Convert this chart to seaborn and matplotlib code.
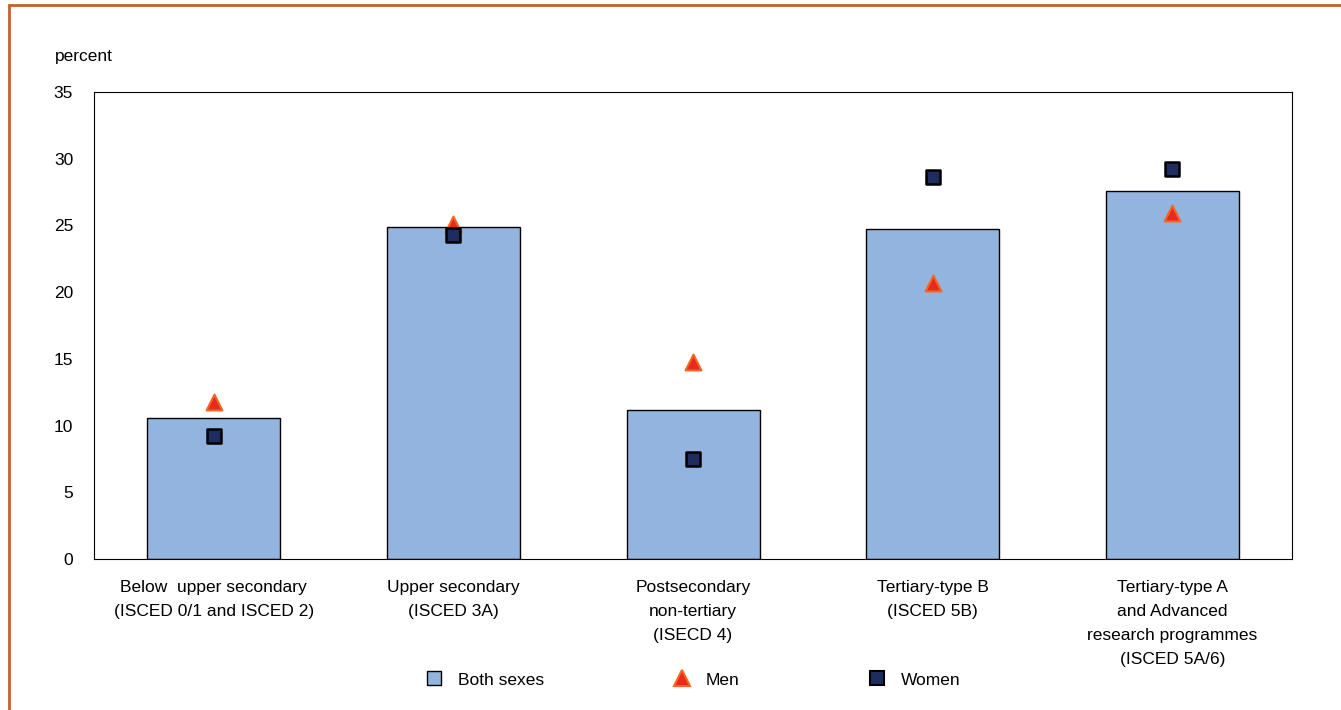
import pandas as pd
import numpy as np
import matplotlib.pyplot as plt
import seaborn as sns
from matplotlib.patches import Rectangle
from matplotlib.lines import Line2D

# data
categories = ["Below  upper secondary\n(ISCED 0/1 and ISCED 2)",
              "Upper secondary\n(ISCED 3A)",
              "Postsecondary\nnon-tertiary\n(ISECD 4)",
              "Tertiary-type B\n(ISCED 5B)",
              "Tertiary-type A\nand Advanced\nresearch programmes\n(ISCED 5A/6)"]
both_sexes = [10.6, 24.9, 11.2, 24.7, 27.6]
men = [11.8, 25.1, 14.8, 20.7, 25.9]
women = [9.2, 24.3, 7.5, 28.6, 29.2]

df = pd.DataFrame({"cat": categories, "Both sexes": both_sexes,
                   "Men": men, "Women": women})

sns.set_style("white")
plt.rcParams['font.family'] = ['Liberation Sans', 'DejaVu Sans']
plt.rcParams['text.color'] = 'black'
plt.rcParams['xtick.color'] = 'black'
plt.rcParams['ytick.color'] = 'black'

fig = plt.figure(figsize=(13.41, 7.10), dpi=100)
ax = fig.add_axes([0.0701, 0.2127, 0.8934, 0.6577])

bar_col = "#92B4DF"
sns.barplot(data=df, x="cat", y="Both sexes", color=bar_col, width=0.555,
            edgecolor="black", linewidth=1, saturation=1, ax=ax)
sns.scatterplot(data=df, x="cat", y="Men", marker="^", s=130, color="#E8291C",
                edgecolor="#F26522", linewidth=1.5, ax=ax, zorder=4)
sns.scatterplot(data=df, x="cat", y="Women", marker="s", s=110, color="#1F2D5E",
                edgecolor="black", linewidth=1.8, ax=ax, zorder=5)

ax.set_xlim(-0.5, 4.5)
ax.set_ylim(0, 35)
ax.set_yticks(range(0, 36, 5))
ax.set_xlabel("")
ax.set_ylabel("")
ax.tick_params(axis="both", length=0, labelsize=12.5)
ax.tick_params(axis="y", pad=15)
ax.tick_params(axis="x", pad=15)
for lbl in ax.get_xticklabels():
    lbl.set_linespacing(1.75)
for s in ax.spines.values():
    s.set_color("black")
    s.set_linewidth(0.8)

fig.text(55 / 1341, 1 - 57 / 710, "percent", fontsize=12.5, va="center", ha="left")

# legend at the bottom
handles = [Line2D([], [], marker="s", ls="", markersize=10, markerfacecolor=bar_col,
                  markeredgecolor="black", markeredgewidth=1),
           Line2D([], [], marker="^", ls="", markersize=11, markerfacecolor="#E8291C",
                  markeredgecolor="#F26522", markeredgewidth=1.5),
           Line2D([], [], marker="s", ls="", markersize=10, markerfacecolor="#1F2D5E",
                  markeredgecolor="black", markeredgewidth=1.5)]
fig.legend(handles, ["Both sexes", "Men", "Women"], loc="center",
           bbox_to_anchor=(0.515, 1 - 680 / 710), ncol=3, frameon=False,
           fontsize=12.5, columnspacing=7.2, handletextpad=0.6, handlelength=1.5)

# orange frame on the figure
fig.patches.append(Rectangle((9 / 1341, -0.1), 1.2, 1 - 5 / 710 + 0.1,
                             transform=fig.transFigure, fill=False,
                             edgecolor="#C0622B", linewidth=2))

fig.savefig("out.png", dpi=100)
